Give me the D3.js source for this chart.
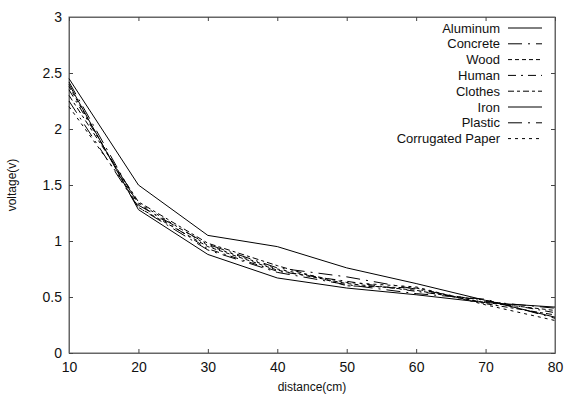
<!DOCTYPE html>
<html>
<head>
<meta charset="utf-8">
<script src="https://cdn.jsdelivr.net/npm/d3@7"></script>
<style>
  body { margin: 0; background: #fff; }
  text { font-family: "Liberation Sans", Arial, sans-serif; fill: #111; }
</style>
</head>
<body>
<div id="chart"></div>
<script>
// distance (cm) and measured voltage per material
var distance = [10, 20, 30, 40, 50, 60, 70, 80];
var aluminum = [2.45, 1.50, 1.05, 0.95, 0.76, 0.62, 0.47, 0.32];
var concrete = [2.42, 1.32, 0.97, 0.76, 0.68, 0.57, 0.46, 0.40];
var wood     = [2.38, 1.30, 0.95, 0.74, 0.62, 0.56, 0.45, 0.38];
var human    = [2.35, 1.33, 0.93, 0.73, 0.64, 0.55, 0.47, 0.36];
var clothes  = [2.30, 1.35, 0.98, 0.78, 0.60, 0.58, 0.44, 0.34];
var iron     = [2.40, 1.28, 0.88, 0.67, 0.58, 0.52, 0.45, 0.41];
var plastic  = [2.25, 1.30, 0.92, 0.72, 0.61, 0.53, 0.48, 0.31];
var paper    = [2.20, 1.34, 0.96, 0.75, 0.63, 0.59, 0.43, 0.29];

var names = ["Aluminum", "Concrete", "Wood", "Human", "Clothes", "Iron", "Plastic", "Corrugated Paper"];
var values = [aluminum, concrete, wood, human, clothes, iron, plastic, paper];
var dashes = ["none", "14,6,2,6", "4,3", "8,5,2,5", "6,3,3,3", "none", "14,6,2,6", "3,4"];

var xTicks = [10, 20, 30, 40, 50, 60, 70, 80];
var yTicks = [0, 0.5, 1, 1.5, 2, 2.5, 3];

var margin = { top: 17, right: 18, bottom: 44, left: 69 };
var width = 573 - margin.left - margin.right;
var height = 397 - margin.top - margin.bottom;

var svg = d3.select("#chart").append("svg")
    .attr("width", 573)
    .attr("height", 397)
  .append("g")
    .attr("transform", "translate(" + margin.left + "," + margin.top + ")");

var x = d3.scaleLinear().domain([10, 80]).range([0, width]);
var y = d3.scaleLinear().domain([0, 3]).range([height, 0]);

// frame
svg.append("rect")
    .attr("width", width).attr("height", height)
    .attr("fill", "none").attr("stroke", "#666").attr("stroke-width", 1);

// axes with inward ticks
svg.append("g")
    .attr("transform", "translate(0," + height + ")")
    .call(d3.axisBottom(x).tickValues(xTicks).tickSizeInner(-4).tickSizeOuter(0).tickPadding(9));
svg.append("g")
    .call(d3.axisLeft(y).tickValues(yTicks).tickSizeInner(-4).tickSizeOuter(0).tickPadding(7)
      .tickFormat(d3.format("")));
svg.append("g")
    .attr("transform", "translate(" + width + ",0)")
    .call(d3.axisRight(y).tickValues(yTicks).tickSizeInner(-4).tickSizeOuter(0).tickFormat(""));
svg.append("g")
    .call(d3.axisTop(x).tickValues(xTicks).tickSizeInner(-4).tickSizeOuter(0).tickFormat(""));

svg.selectAll(".domain").attr("stroke", "#666");
svg.selectAll(".tick line").attr("stroke", "#444");
svg.selectAll(".tick text").style("font-size", "14px").style("font-family", "Liberation Sans, Arial, sans-serif").attr("fill", "#111");

// axis titles
svg.append("text")
    .attr("x", width / 2).attr("y", height + 38)
    .attr("text-anchor", "middle")
    .style("font-size", "12px")
    .text("distance(cm)");
svg.append("text")
    .attr("transform", "translate(" + (-53) + "," + (height / 2) + ") rotate(-90)")
    .attr("text-anchor", "middle")
    .style("font-size", "12px")
    .text("voltage(v)");

// lines
var line = d3.line()
    .x(function(d, i) { return x(distance[i]); })
    .y(function(d) { return y(d); });

svg.selectAll(".series")
    .data(values)
    .enter()
    .append("path")
      .attr("class", "series")
      .attr("d", line)
      .attr("fill", "none")
      .attr("stroke", "#000")
      .attr("stroke-width", 1)
      .attr("stroke-dasharray", function(d, i) { return dashes[i]; });

// legend
var legend = svg.selectAll(".legend")
    .data(names)
    .enter()
    .append("g")
      .attr("class", "legend")
      .attr("transform", function(d, i) { return "translate(0," + (11 + i * 15.8) + ")"; });

legend.append("text")
    .attr("x", 431).attr("y", 0).attr("dy", "0.35em")
    .attr("text-anchor", "end")
    .style("font-size", "13px")
    .text(function(d) { return d; });

legend.append("line")
    .attr("x1", 439).attr("x2", 473)
    .attr("y1", 0).attr("y2", 0)
    .attr("stroke", "#000").attr("stroke-width", 1)
    .attr("stroke-dasharray", function(d, i) { return dashes[i]; });
</script>
</body>
</html>
